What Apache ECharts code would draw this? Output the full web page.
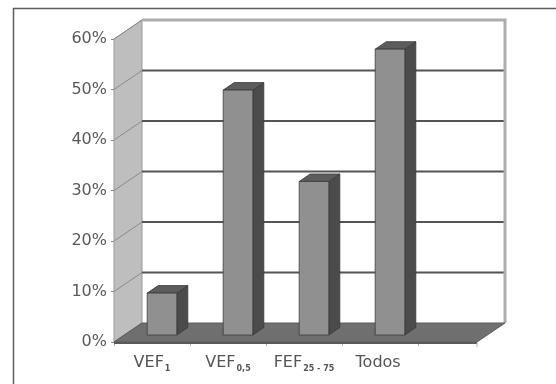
<!DOCTYPE html>
<html>
<head>
<meta charset="utf-8">
<script src="https://cdn.jsdelivr.net/npm/echarts@6/dist/echarts.min.js"></script>
<style>
  html, body { margin: 0; padding: 0; background: #ffffff; }
  #chart { width: 556px; height: 384px; }
</style>
</head>
<body>
<div id="chart"></div>
<script>
// Categories (rich-text keys give the subscripts; the blank one keeps the baseline even)
const categories = ['VEF{sub|1}', 'VEF{sub|0,5}', 'FEF{sub|25 - 75}', 'Todos{sub| }'];
// Percentage of cases per spirometric parameter
const values = [8.3, 48.5, 30.4, 56.6];
// Value axis ticks
const yTicks = [0, 10, 20, 30, 40, 50, 60];

// 3D projection offsets (pixels) for the box and the bars
const WALL_DX = 28, WALL_DY = -19;     // depth of the floor / side wall
const BAR_OFF_DX = 10, BAR_OFF_DY = -7; // bars sit a little behind the front edge
const BAR_DX = 11, BAR_DY = -7.5;       // thickness of each bar
const FLOOR_EXTRA = 59;                 // floor runs past the last category

const FONT = 'DejaVu Sans, Verdana, sans-serif';

const chart = echarts.init(document.getElementById('chart'), null, { renderer: 'canvas' });

// Backdrop: side wall, back wall, gridlines and floor
function renderBox(params, api) {
  const band = api.size([1, 0])[0];
  const first = api.coord([0, 0]);
  const x0 = first[0] - band / 2;
  const xR = api.coord([categories.length - 1, 0])[0] + band / 2 + FLOOR_EXTRA;
  const yBottom = api.coord([0, yTicks[0]])[1];
  const yTop = api.coord([0, yTicks[yTicks.length - 1]])[1];
  const children = [];

  // back wall
  children.push({
    type: 'rect',
    shape: { x: x0 + WALL_DX, y: yTop + WALL_DY, width: xR - x0, height: yBottom - yTop },
    style: { fill: '#ffffff' }
  });
  // side wall
  children.push({
    type: 'polygon',
    shape: { points: [[x0, yTop], [x0 + WALL_DX, yTop + WALL_DY], [x0 + WALL_DX, yBottom + WALL_DY], [x0, yBottom]] },
    style: { fill: '#bebebe', stroke: '#9a9a9a', lineWidth: 1 }
  });
  // gridlines on the back wall and their traces across the side wall
  yTicks.forEach(function (t, k) {
    const y = api.coord([0, t])[1];
    if (k > 0 && k < yTicks.length - 1) {
      children.push({
        type: 'line',
        shape: { x1: x0 + WALL_DX, y1: y + WALL_DY, x2: xR + WALL_DX, y2: y + WALL_DY },
        style: { stroke: '#555555', lineWidth: 2 }
      });
    }
    children.push({
      type: 'line',
      shape: { x1: x0, y1: y, x2: x0 + WALL_DX, y2: y + WALL_DY },
      style: { stroke: '#8a8a8a', lineWidth: 1 }
    });
  });
  // back wall frame (top and right edges)
  children.push({
    type: 'polyline',
    shape: { points: [[x0 + WALL_DX, yTop + WALL_DY], [xR + WALL_DX, yTop + WALL_DY], [xR + WALL_DX, yBottom + WALL_DY]] },
    style: { stroke: '#adadad', lineWidth: 3, fill: 'none' }
  });
  // floor
  children.push({
    type: 'polygon',
    shape: { points: [[x0, yBottom], [x0 + WALL_DX, yBottom + WALL_DY], [xR + WALL_DX, yBottom + WALL_DY], [xR, yBottom]] },
    style: { fill: '#6f6f6f', stroke: '#5c5c5c', lineWidth: 1 }
  });
  children.push({
    type: 'line',
    shape: { x1: x0, y1: yBottom + 1, x2: xR, y2: yBottom + 1 },
    style: { stroke: '#5a5a5a', lineWidth: 2 }
  });
  // small tick at the floor's right front corner
  children.push({
    type: 'line',
    shape: { x1: xR, y1: yBottom + 1, x2: xR, y2: yBottom + 5 },
    style: { stroke: '#b0b0b0', lineWidth: 1 }
  });
  return { type: 'group', children: children };
}

// 3D bar: front, side and top faces
function renderBar(params, api) {
  const i = api.value(0);
  const v = api.value(1);
  const base = api.coord([i, 0]);
  const top = api.coord([i, v]);
  const band = api.size([1, 0])[0];
  const w = band * 0.39;
  const fx = base[0] - w / 2 + BAR_OFF_DX;
  const by = base[1] + BAR_OFF_DY;
  const ty = top[1] + BAR_OFF_DY;
  const edge = { stroke: '#3a3a3a', lineWidth: 0.8 };
  return {
    type: 'group',
    children: [
      {
        type: 'polygon',
        shape: { points: [[fx + w, ty], [fx + w + BAR_DX, ty + BAR_DY], [fx + w + BAR_DX, by + BAR_DY], [fx + w, by]] },
        style: Object.assign({ fill: '#4b4b4b' }, edge)
      },
      {
        type: 'polygon',
        shape: { points: [[fx, ty], [fx + BAR_DX, ty + BAR_DY], [fx + w + BAR_DX, ty + BAR_DY], [fx + w, ty]] },
        style: Object.assign({ fill: '#5c5c5c' }, edge)
      },
      {
        type: 'rect',
        shape: { x: fx, y: ty, width: w, height: by - ty },
        style: Object.assign({ fill: '#909090' }, edge)
      }
    ]
  };
}

const option = {
  backgroundColor: '#ffffff',
  animation: false,
  graphic: [{
    type: 'rect',
    left: 11, top: 6,
    shape: { width: 600, height: 500 },
    style: { fill: 'none', stroke: '#5e5e5e', lineWidth: 1.5 },
    z: 100
  }],
  grid: { left: 114, right: 138, top: 39, bottom: 42 },
  xAxis: {
    type: 'category',
    data: categories,
    axisLine: { show: false },
    axisTick: { show: true, alignWithLabel: false, length: 4, lineStyle: { color: '#b0b0b0' } },
    axisLabel: {
      interval: 0,
      margin: 10,
      color: '#555555',
      fontFamily: FONT,
      fontSize: 16,
      rich: {
        sub: { fontSize: 8, fontWeight: 'bold', color: '#555555', padding: [13, 0, 0, 1], fontFamily: FONT }
      }
    }
  },
  yAxis: {
    type: 'value',
    min: 0,
    max: 60,
    interval: 10,
    axisLine: { show: false },
    axisTick: { show: true, length: 3, lineStyle: { color: '#8a8a8a' } },
    splitLine: { show: false },
    axisLabel: {
      formatter: '{value}%',
      margin: 7,
      color: '#5a5a5a',
      fontFamily: FONT,
      fontSize: 16
    }
  },
  series: [
    {
      type: 'custom',
      renderItem: renderBox,
      data: [[0, 0]],
      silent: true,
      z: 1
    },
    {
      type: 'custom',
      renderItem: renderBar,
      data: values.map(function (v, i) { return [i, v]; }),
      encode: { x: 0, y: 1 },
      z: 2
    }
  ]
};

chart.setOption(option);
</script>
</body>
</html>
